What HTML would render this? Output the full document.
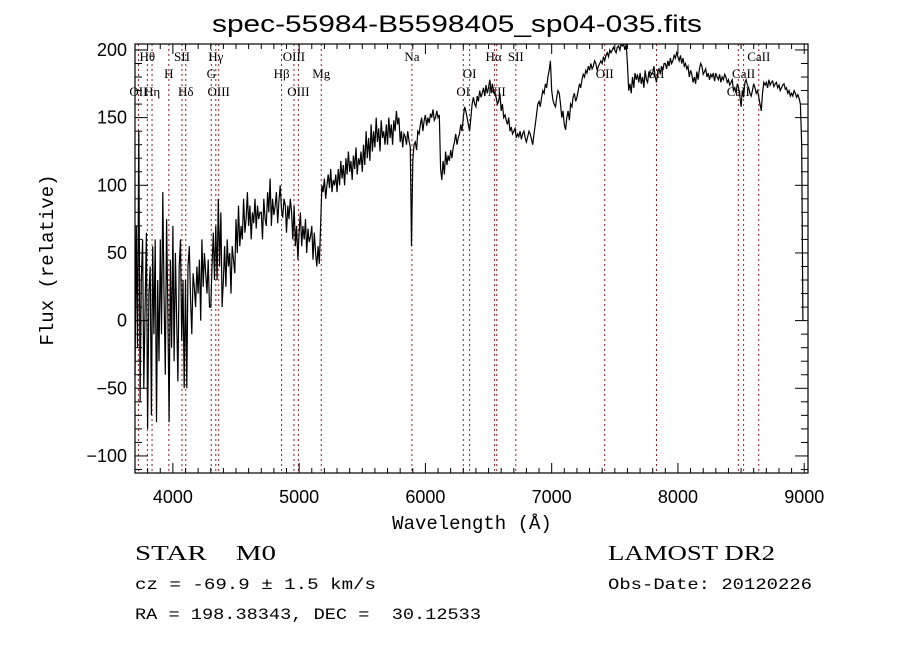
<!DOCTYPE html>
<html><head><meta charset="utf-8"><style>
html,body{margin:0;padding:0;background:#fff;}
svg{display:block;}
text{white-space:pre;}
</style></head><body>
<svg id="chart" width="900" height="649" viewBox="0 0 900 649" xmlns="http://www.w3.org/2000/svg" xml:space="preserve">
<rect width="900" height="649" fill="#fff"/>
<text x="457" y="32" text-anchor="middle" font-family="Liberation Sans, sans-serif" font-size="24" textLength="490" lengthAdjust="spacingAndGlyphs">spec-55984-B5598405_sp04-035.fits</text>
<g id="lines"></g>
<g id="linelabels" font-family="Liberation Serif, serif" font-size="13"></g>
<path id="spec" fill="none" stroke="#000" stroke-width="1.2" stroke-linejoin="miter"/>
<rect x="135" y="44" width="673" height="429" fill="none" stroke="#000" stroke-width="1.2"/>
<g id="ticks" stroke="#000" stroke-width="1"></g>
<g id="ticklabels" font-family="Liberation Sans, sans-serif" font-size="18"></g>
<text x="472" y="529" text-anchor="middle" font-family="Liberation Mono, monospace" font-size="19">Wavelength (Å)</text>
<text transform="translate(53,260) rotate(-90)" text-anchor="middle" font-family="Liberation Mono, monospace" font-size="19">Flux (relative)</text>
<text x="135" y="560" font-family="Liberation Serif, serif" font-size="21" textLength="141" lengthAdjust="spacingAndGlyphs">STAR    M0</text>
<text x="608" y="560" font-family="Liberation Serif, serif" font-size="21" textLength="167" lengthAdjust="spacingAndGlyphs">LAMOST DR2</text>
<text x="135" y="589" font-family="Liberation Mono, monospace" font-size="16" textLength="241" lengthAdjust="spacingAndGlyphs">cz = -69.9 ± 1.5 km/s</text>
<text x="608" y="589" font-family="Liberation Mono, monospace" font-size="16" textLength="204" lengthAdjust="spacingAndGlyphs">Obs-Date: 20120226</text>
<text x="135" y="619" font-family="Liberation Mono, monospace" font-size="16" textLength="346" lengthAdjust="spacingAndGlyphs">RA = 198.38343, DEC =  30.12533</text>
</svg>
<script>
const waveStart = 3700;
const waveStep = 10;
const flux = [
-40,70,-20,140,-60,30,60,-50,10,65,-80,20,40,-70,55,-10,60,-75,30,-30,
60,-10,95,20,-40,75,10,-75,45,-20,70,-30,50,0,-45,40,60,-15,30,-50,
30,-50,40,55,15,-10,35,25,10,40,20,45,0,60,25,50,35,20,45,10,
10,40,65,30,70,30,90,40,80,10,30,55,25,60,40,50,20,55,45,35,
75,50,85,55,70,60,90,65,75,95,70,85,60,80,72,90,68,85,75,80,
80,60,90,75,70,95,80,105,70,90,78,85,95,72,88,100,82,76,90,85,
65,85,75,90,80,60,85,55,70,45,65,80,55,70,60,75,50,68,58,62,
70,45,65,50,40,55,42,70,100,95,105,90,100,108,98,112,95,104,100,108,
95,112,100,118,105,115,100,120,108,125,110,118,104,122,112,128,108,120,115,125,
110,130,115,140,120,135,118,145,125,140,128,150,132,142,125,148,135,140,130,145,
130,150,135,145,130,148,140,155,145,150,132,140,128,138,136,130,140,133,128,55,
118,130,132,126,140,138,145,150,140,148,152,144,150,146,153,150,156,148,150,155,
150,152,112,104,118,108,125,115,122,118,126,120,128,132,138,130,135,138,145,140,
150,158,155,150,145,140,150,160,165,160,158,166,162,170,165,168,172,166,174,168,
172,178,168,175,170,168,165,160,162,168,155,160,150,152,148,145,150,140,143,138,
140,142,135,138,136,140,134,138,140,135,132,136,140,138,134,130,138,145,152,160,
162,158,165,170,168,175,172,180,185,192,170,163,160,158,165,170,168,160,150,155,
145,141,150,155,148,160,158,165,168,162,165,170,175,172,178,182,180,185,183,188,
185,190,186,188,192,190,185,188,190,192,190,195,192,196,198,195,200,198,200,202,
200,198,202,203,200,204,203,204,200,204,190,170,175,168,180,172,183,178,182,176,
183,175,180,172,185,178,176,184,180,182,183,188,180,176,184,186,182,188,185,190,
190,186,192,188,194,190,192,196,194,198,195,192,196,190,194,188,190,186,188,180,
185,182,176,180,175,184,178,186,190,188,182,184,186,180,183,178,182,180,183,177,
183,180,178,182,176,180,178,182,180,176,178,174,176,178,170,172,168,175,172,166,
158,170,165,176,178,174,172,168,166,170,175,172,168,170,165,160,155,168,176,174,
176,172,178,174,176,177,173,175,176,172,174,170,172,174,175,171,172,168,170,166,
168,166,170,168,165,167,164,160,130,0
];
const lineWaves = [3727,3798,3835,3968,4072,4102,4304,4340,4363,4861,4959,4994,5175,5893,6300,6350,6548,6565,6716,7420,7830,8478,8520,8640];
const labelNames = ["Hθ","SII","Hγ","OIII","Na","Hα","SII","CaII","H","G","Hβ","Mg","OI","OII","SII","CaII","OII","Hη","Hδ","OIII","OIII","OI","NII","CaII"];
const labelWaves = [3798,4072,4340,4959,5893,6540,6716,8640,3968,4304,4861,5175,6350,7420,7830,8520,3727,3835,4102,4363,4994,6300,6565,8478];
const labelRows = [0,0,0,0,0,0,0,0,1,1,1,1,1,1,1,1,2,2,2,2,2,2,2,2];
const xTicks = [4000,5000,6000,7000,8000,9000];
const yTicks = [-100,-50,0,50,100,150,200];

const X0=135,X1=808,Y0=44,Y1=473;
const xMin=3700,xMax=9030,yMin=-112.6,yMax=204.4;
function xs(w){return X0+(w-xMin)/(xMax-xMin)*(X1-X0);}
function ys(v){return Y1-(v-yMin)/(yMax-yMin)*(Y1-Y0);}
const NS="http://www.w3.org/2000/svg";
function mk(tag,attrs,parent){const e=document.createElementNS(NS,tag);for(const k in attrs)e.setAttribute(k,attrs[k]);parent.appendChild(e);return e;}

let d="";
flux.forEach((f,i)=>{const w=waveStart+i*waveStep;const y=Math.max(Y0,Math.min(Y1,ys(f)));d+=(i?"L":"M")+xs(w).toFixed(1)+" "+y.toFixed(1);});
document.getElementById("spec").setAttribute("d",d);

const lg=document.getElementById("lines");
lineWaves.forEach(w=>{
  const l=mk("line",{x1:xs(w),x2:xs(w),y1:Y0,y2:Y1,stroke:"#8b2020","stroke-width":1,"stroke-dasharray":"2,3"},lg);
  
  
});
const ll=document.getElementById("linelabels");
const rowY=[61,78,96];
labelNames.forEach((n,i)=>{
  const t=mk("text",{x:xs(labelWaves[i]),y:rowY[labelRows[i]],"text-anchor":"middle"},ll);
  t.textContent=n;
  
  
});

const tg=document.getElementById("ticks");
for(let w=3700;w<=9000;w+=100){
  const major=w%1000===0;const len=major?10:5;const x=xs(w);
  mk("line",{x1:x,x2:x,y1:Y1,y2:Y1-len},tg);
  mk("line",{x1:x,x2:x,y1:Y0,y2:Y0+len},tg);
}
for(let v=-110;v<=200;v+=10){
  const major=v%50===0;const len=major?13:7;const y=ys(v);
  mk("line",{x1:X0,x2:X0+len,y1:y,y2:y},tg);
  mk("line",{x1:X1,x2:X1-len,y1:y,y2:y},tg);
}
const tl=document.getElementById("ticklabels");
xTicks.forEach(w=>{
  const t=mk("text",{x:xs(w),y:503,"text-anchor":"middle"},tl);
  t.textContent=w;
  
  
});
yTicks.forEach(v=>{
  const t=mk("text",{x:127,y:ys(v)+6,"text-anchor":"end"},tl);
  t.textContent=v<0?"−"+(-v):v;
  
  
});
</script>
</body></html>
